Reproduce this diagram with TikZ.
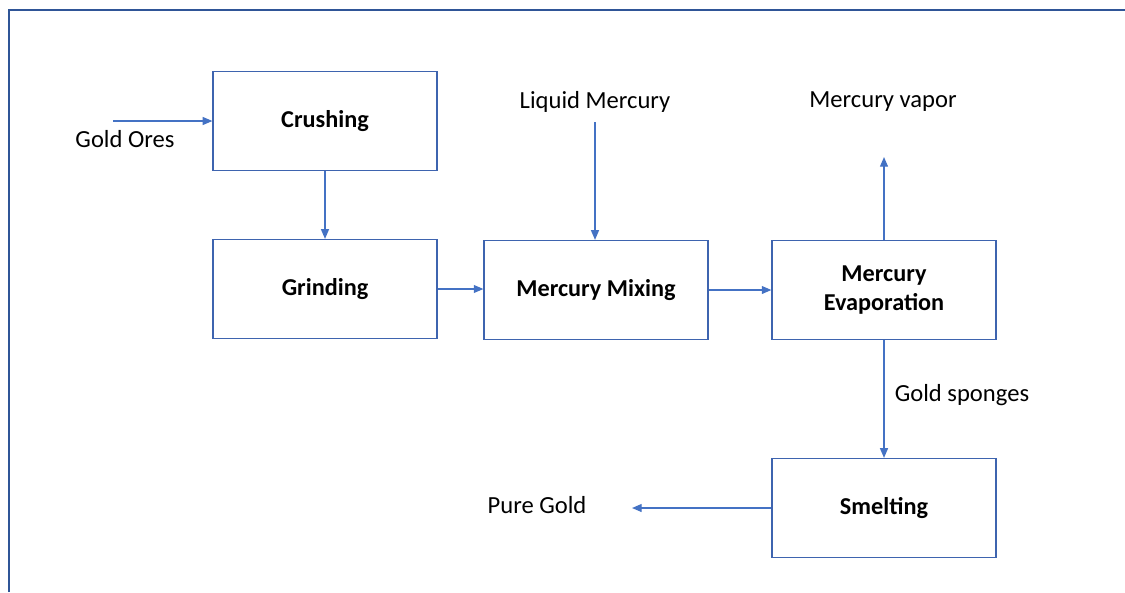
\documentclass[tikz,border=0pt]{standalone}
\usepackage{fontspec}
\setmainfont{Carlito}
\usetikzlibrary{arrows.meta,positioning}
\definecolor{flowblue}{RGB}{68,114,196}
\definecolor{boxblue}{RGB}{62,100,175}
\definecolor{frameblue}{RGB}{47,85,151}
\begin{document}
\begin{tikzpicture}[
  x=0.02cm, y=-0.02cm,
  font=\fontsize{14}{17}\selectfont,
  >={Triangle[length=5.5pt,width=4.5pt]},
  stage/.style={rectangle, draw=boxblue, line width=0.7pt, align=center,
                minimum width=4.48cm, minimum height=1.98cm,
                font=\fontsize{13.8}{17}\selectfont\bfseries},
  flow/.style={->, draw=flowblue, line width=0.75pt},
  lbl/.style={inner sep=0pt},
]
\useasboundingbox (0,0) rectangle (1125,592);

% frame
\draw[frameblue, line width=0.8pt] (9,592) -- (9,10) -- (1125,10);

% stages
\node[stage] (crush) at (325,121) {Crushing};
\node[stage] (grind) at (325,289) {Grinding};
\node[stage] (mix)   at (596,290) {Mercury\ Mixing};
\node[stage] (evap)  at (884,290) {Mercury\\Evaporation};
\node[stage] (smelt) at (884,508) {Smelting};

% labels
\node[lbl] (ores)   at (125,139) {Gold Ores};
\node[lbl] (liquid) at (595,102) {Liquid Mercury};
\node[lbl] (vapor)  at (883,102) {Mercury vapor};
\node[lbl] (sponge) at (962,395) {Gold sponges};
\node[lbl] (pure)   at (537,505) {Pure Gold};

% free ends
\coordinate (oresin)  at (113,121);
\coordinate (liqout)  at (595,122);
\coordinate (vapend)  at (884,157);
\coordinate (pureend) at (632,508);

% --- flows ---
\draw[flow] (oresin) -- (oresin -| crush.west);
\draw[flow] (crush.south) -- (grind.north);
\draw[flow] (grind.east) -- (grind.east -| mix.west);
\draw[flow] (liqout) -- (liqout |- mix.north);
\draw[flow] (mix.east) -- (mix.east -| evap.west);
\draw[flow] (evap.north) -- (vapend);
\draw[flow] (evap.south) -- (smelt.north);
\draw[flow] (smelt.west) -- (pureend);

\end{tikzpicture}
\end{document}
